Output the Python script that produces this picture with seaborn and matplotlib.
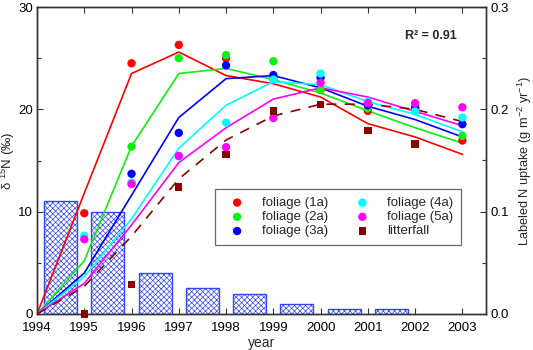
import numpy as np
import pandas as pd
import matplotlib
matplotlib.use("Agg")
import matplotlib.pyplot as plt
import seaborn as sns
from matplotlib.ticker import MultipleLocator

sns.set_style("white")
plt.rcParams['font.family'] = ['Liberation Sans', 'DejaVu Sans']
plt.rcParams['mathtext.fontset'] = 'custom'
plt.rcParams['mathtext.rm'] = 'Liberation Sans'
plt.rcParams['mathtext.it'] = 'Liberation Sans'

years = [1994, 1995, 1996, 1997, 1998, 1999, 2000, 2001, 2002, 2003]
obs_years = [1995, 1996, 1997, 1998, 1999, 2000, 2001, 2002, 2003]

# observed delta 15N (permil)
obs_1a = [9.85, 24.5, 26.3, 25.0, 23.0, 21.9, 19.85, 20.2, 16.95]
obs_2a = [np.nan, 16.35, 25.0, 25.3, 24.7, 21.9, 20.1, 20.1, 17.4]
obs_3a = [np.nan, 13.7, 17.7, 24.3, 23.35, 23.1, 20.4, 20.1, 18.55]
obs_4a = [7.65, 12.85, 15.4, 18.7, 22.9, 23.5, 20.75, 19.8, 19.2]
obs_5a = [7.3, 12.7, 15.45, 16.3, 19.15, 22.6, 20.6, 20.6, 20.2]
obs_litter = [0.0, 2.9, 12.4, 15.6, 19.85, 20.5, 17.9, 16.6, np.nan]

# model curves
fit_1a = [0.0, 11.8, 23.5, 25.6, 23.3, 22.5, 21.2, 18.6, 17.3, 15.6]
fit_2a = [0.0, 5.2, 16.4, 23.5, 24.0, 22.9, 21.6, 19.85, 18.2, 16.7]
fit_3a = [0.0, 4.0, 11.6, 19.2, 23.0, 23.3, 22.1, 20.3, 19.0, 17.3]
fit_4a = [0.0, 3.65, 9.3, 16.2, 20.4, 22.7, 22.4, 20.75, 19.5, 17.8]
fit_5a = [0.0, 3.0, 8.7, 14.8, 18.2, 21.0, 22.1, 21.2, 19.8, 18.4]
fit_litter = [0.0, 2.7, 7.6, 13.2, 17.0, 19.35, 20.5, 20.5, 20.0, 18.8]

# labeled N uptake (g m-2 yr-1)
bar_x = [1994.5, 1995.5, 1996.5, 1997.5, 1998.5, 1999.5, 2000.5, 2001.5]
uptake = [0.11, 0.10, 0.04, 0.025, 0.02, 0.01, 0.005, 0.005]

labels = ["foliage (1a)", "foliage (2a)", "foliage (3a)", "foliage (4a)", "foliage (5a)", "litterfall"]
colors = ["#ff0000", "#11ee11", "#0000ff", "#00ffff", "#ff00ff", "#8b0000"]
obs_all = [obs_1a, obs_2a, obs_3a, obs_4a, obs_5a, obs_litter]
fit_all = [fit_1a, fit_2a, fit_3a, fit_4a, fit_5a, fit_litter]

fig = plt.figure(figsize=(5.33, 3.5), dpi=100)
ax = fig.add_axes([37/533, 1-314/350, 449/533, 307/350])
ax2 = ax.twinx()

# bars on right axis
plt.rcParams['hatch.linewidth'] = 0.5
bdf = pd.DataFrame({"x": bar_x, "u": uptake})
sns.barplot(data=bdf, x="x", y="u", native_scale=True, width=0.7, ax=ax2,
            color="white", edgecolor="#2a3cff", linewidth=1.0)
for p in ax2.patches:
    p.set_hatch("xxxxxx")
    p.set_facecolor("white")
    p.set_edgecolor("#3346ff")

ax.set_zorder(ax2.get_zorder() + 1)
ax.patch.set_visible(False)

for lab, col, fit in zip(labels, colors, fit_all):
    d = pd.DataFrame({"year": years, "v": fit})
    ls = (0, (6, 5)) if lab == "litterfall" else "-"
    sns.lineplot(data=d, x="year", y="v", color=col, lw=1.2, ax=ax, linestyle=ls,
                 legend=False, zorder=2)

for lab, col, obs in zip(labels, colors, obs_all):
    d = pd.DataFrame({"year": obs_years, "v": obs})
    mk = "s" if lab == "litterfall" else "o"
    sz = 28 if lab == "litterfall" else 36
    sns.scatterplot(data=d, x="year", y="v", color=col, marker=mk, s=sz,
                    edgecolor="none", ax=ax, zorder=3, label=lab, clip_on=False)

ax.set_xlim(1994, 2003.5)
ax.set_ylim(0, 30)
ax2.set_ylim(0, 0.3)
ax.set_xticks(years)
ax.set_yticks([0, 10, 20, 30])
ax.yaxis.set_minor_locator(MultipleLocator(5))
ax2.set_yticks([0.0, 0.1, 0.2, 0.3])
ax2.set_yticklabels(["0.0", "0.1", "0.2", "0.3"])
ax2.yaxis.set_minor_locator(MultipleLocator(0.05))

ax.tick_params(axis="both", which="both", direction="in", labelsize=9.5,
               top=True, right=False, left=True, bottom=True, length=4, width=0.8,
               colors="#333333", labelcolor="black", pad=3)
ax.tick_params(axis="x", which="both", pad=6)
ax.tick_params(axis="y", which="minor", length=3)
ax2.tick_params(axis="y", which="both", direction="in", labelsize=9.5, length=4,
                width=0.8, colors="#333333", labelcolor="black", pad=3)
ax2.tick_params(axis="y", which="minor", length=3)
for a in (ax, ax2):
    for s in a.spines.values():
        s.set_color("#333333")
        s.set_linewidth(1.0)
        s.set_visible(True)

ax.set_xlabel("year", fontsize=10, labelpad=1)
ax.set_ylabel(r"δ $^{15}$N (‰)", fontsize=9.5)
ax.yaxis.set_label_coords(-0.045, 0.5)
ax2.set_ylabel(r"Labeled N uptake (g m$^{-2}$ yr$^{-1}$)", fontsize=9.2)
ax2.yaxis.set_label_coords(1.066, 0.5)

ax.text(0.935, 0.905, "R² = 0.91", transform=ax.transAxes, ha="right", va="center",
        fontsize=9, fontweight="bold")

leg = ax.legend(loc="lower left", bbox_to_anchor=(0.381, 0.202, 0.579, 0.195),
                mode="expand", ncol=2, fontsize=9.5, frameon=True, fancybox=False,
                edgecolor="#444444", handletextpad=0.8, borderpad=0.6,
                labelspacing=0.15, handlelength=2.2, columnspacing=1.5)
leg.get_frame().set_linewidth(0.9)

fig.savefig("out.png", dpi=100)
